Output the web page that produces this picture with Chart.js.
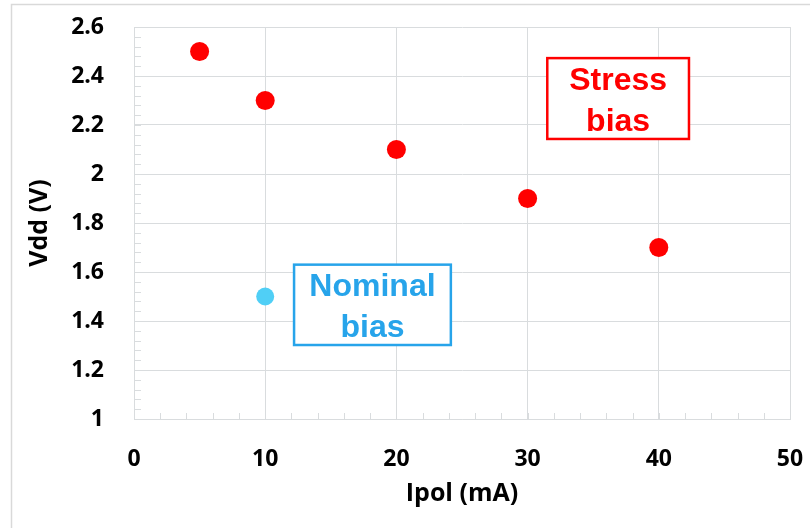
<!DOCTYPE html>
<html>
<head>
<meta charset="utf-8">
<script src="https://cdn.jsdelivr.net/npm/chart.js@4"></script>
<style>
  body { margin: 0; background: #fff; }
</style>
</head>
<body>
<canvas id="myChart" width="810" height="528"></canvas>
<script>
// values
const ipolStress = [5, 10, 20, 30, 40];
const vddStress = [2.5, 2.3, 2.1, 1.9, 1.7];
const ipolNominal = [10];
const vddNominal = [1.5];

const xMin = 0, xMax = 50, xStep = 10, xMinor = 2;
const yMin = 1, yMax = 2.6, yStep = 0.2, yMinor = 0.04;

const gridColor = "#d9dcde";
const tickFont = { family: "Open Sans", weight: "bold", size: 23 };
const titleFont = { family: "Open Sans", weight: "bold", size: 25 };

// text boxes, placed in data units
const notes = [
  { lines: ["Stress", "bias"], color: "#ff0000", x0: 31.5, x1: 42.3, y0: 2.473, y1: 2.143 },
  { lines: ["Nominal", "bias"], color: "#27a4ea", x0: 12.2, x1: 24.15, y0: 1.63, y1: 1.302 },
];

const toXY = (xs, ys) => xs.map((x, i) => ({ x: x, y: ys[i] }));

const extras = {
  id: "extras",
  beforeDraw(chart) {
    const ctx = chart.ctx;
    ctx.save();
    ctx.strokeStyle = "#d9d9d9";
    ctx.lineWidth = 1.5;
    ctx.beginPath();
    ctx.moveTo(11.5, 528);
    ctx.lineTo(11.5, 4.5);
    ctx.lineTo(810, 4.5);
    ctx.stroke();
    ctx.restore();
  },
  beforeDatasetsDraw(chart) {
    const ctx = chart.ctx;
    const x = chart.scales.x, y = chart.scales.y;
    const a = chart.chartArea;
    ctx.save();
    ctx.strokeStyle = gridColor;
    ctx.lineWidth = 1;
    ctx.beginPath();
    for (let v = yMin + yMinor; v < yMax - 1e-6; v += yMinor) {
      const py = Math.round(y.getPixelForValue(v)) + 0.5;
      ctx.moveTo(a.left, py);
      ctx.lineTo(a.left + 7, py);
    }
    for (let v = xMin + xMinor; v < xMax - 1e-6; v += xMinor) {
      const px = Math.round(x.getPixelForValue(v)) + 0.5;
      ctx.moveTo(px, a.bottom);
      ctx.lineTo(px, a.bottom - 6);
    }
    ctx.stroke();
    ctx.restore();
  },
  afterDraw(chart) {
    const ctx = chart.ctx;
    const x = chart.scales.x, y = chart.scales.y;
    ctx.save();
    notes.forEach(n => {
      const l = x.getPixelForValue(n.x0), r = x.getPixelForValue(n.x1);
      const t = y.getPixelForValue(n.y0), b = y.getPixelForValue(n.y1);
      ctx.fillStyle = "#fff";
      ctx.fillRect(l, t, r - l, b - t);
      ctx.strokeStyle = n.color;
      ctx.lineWidth = 2.5;
      ctx.strokeRect(l, t, r - l, b - t);
      ctx.fillStyle = n.color;
      ctx.font = "bold 32px 'Liberation Sans', Arial, sans-serif";
      ctx.textAlign = "center";
      ctx.textBaseline = "alphabetic";
      const cx = (l + r) / 2, cy = (t + b) / 2;
      ctx.fillText(n.lines[0], cx, cy - 9);
      ctx.fillText(n.lines[1], cx, cy + 32);
    });
    ctx.restore();
  },
};

new Chart(document.getElementById("myChart"), {
  type: "scatter",
  data: {
    datasets: [
      {
        label: "Stress bias",
        data: toXY(ipolStress, vddStress),
        backgroundColor: "#ff0000",
        borderWidth: 0,
        pointRadius: 9.5,
      },
      {
        label: "Nominal bias",
        data: toXY(ipolNominal, vddNominal),
        backgroundColor: "#50cff6",
        borderWidth: 0,
        pointRadius: 9,
      },
    ],
  },
  options: {
    responsive: false,
    animation: false,
    layout: { padding: { top: 27, right: 20, left: 0, bottom: 0 } },
    plugins: { legend: { display: false }, tooltip: { enabled: false } },
    scales: {
      x: {
        type: "linear",
        min: xMin,
        max: xMax,
        ticks: { stepSize: xStep, color: "#000", font: tickFont, padding: 27, maxRotation: 0 },
        grid: { color: gridColor, drawTicks: false },
        border: { color: gridColor },
        title: { display: true, text: "Ipol (mA)", color: "#000", font: titleFont, padding: { top: 0, bottom: 19 } },
        afterFit(s) { s.height = 109; s.paddingLeft = 0; s.paddingRight = 0; },
      },
      y: {
        type: "linear",
        min: yMin,
        max: yMax,
        ticks: {
          stepSize: yStep,
          color: "#000",
          font: tickFont,
          padding: 30,
          callback: v => String(parseFloat(v.toFixed(1))),
        },
        grid: { color: gridColor, drawTicks: false },
        border: { color: gridColor },
        title: { display: true, text: "Vdd (V)", color: "#000", font: titleFont, padding: { top: 25, bottom: 0 } },
        afterFit(s) { s.width = 134; s.paddingTop = 0; s.paddingBottom = 0; },
      },
    },
  },
  plugins: [extras],
});
</script>
</body>
</html>
